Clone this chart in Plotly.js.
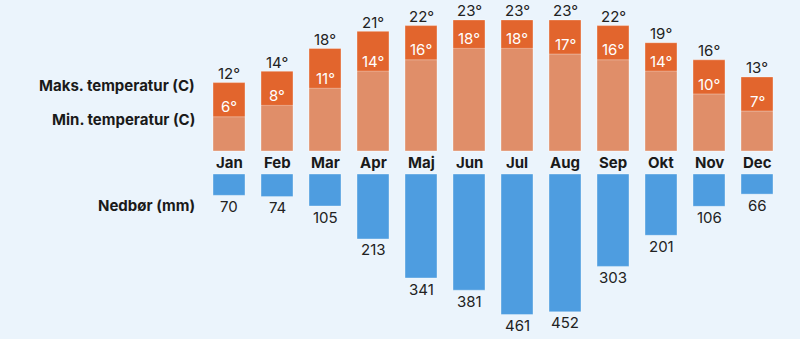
<!DOCTYPE html>
<html>
<head>
<meta charset="utf-8">
<script src="https://cdn.plot.ly/plotly-3.0.1.min.js"></script>
<style>html,body{margin:0;padding:0;background:#ebf4fc;}#chart{width:800px;height:339px;}</style>
</head>
<body>
<div id="chart"></div>
<script>
const months = ["Jan","Feb","Mar","Apr","Maj","Jun","Jul","Aug","Sep","Okt","Nov","Dec"];
const maxTemp = [12,14,18,21,22,23,23,23,22,19,16,13];
const minTemp = [6,8,11,14,16,18,18,17,16,14,10,7];
const precip = [70,74,105,213,341,381,461,452,303,201,106,66];
const rowLabels = ["Maks. temperatur (C)","Min. temperatur (C)","Nedbør (mm)"];

const FONT = "Inter, 'Noto Sans', sans-serif";
const deg = v => v + "°";
const LINE = {color: "rgba(255,255,255,0.35)", width: 1};

const traces = [
  {type: "bar", x: months, y: maxTemp, xaxis: "x", yaxis: "y",
   marker: {color: "#e2652d", line: LINE}, hoverinfo: "none"},
  {type: "bar", x: months, y: minTemp, xaxis: "x", yaxis: "y",
   marker: {color: "#e08e69", line: LINE}, hoverinfo: "none"},
  {type: "bar", x: months, y: precip, xaxis: "x", yaxis: "y2",
   marker: {color: "#4e9de0", line: LINE}, hoverinfo: "none"}
];

const W = 800, H = 339;
const step = 48, firstCenter = 229;
const xr0 = -firstCenter / step, xr1 = xr0 + W / step;
const tScale = 5.7, tZero = 151;
const yr0 = -(H - tZero) / tScale, yr1 = yr0 + H / tScale;
const pScale = 0.305, pZero = 174;
const p0 = -pZero / pScale, p1 = (H - pZero) / pScale;

const annotations = [];
months.forEach((m, i) => {
  annotations.push({x: m, xref: "x", y: maxTemp[i], yref: "y", yanchor: "middle", yshift: 9,
    text: deg(maxTemp[i]), showarrow: false, font: {family: FONT, size: 15, color: "#222"}});
  annotations.push({x: m, xref: "x", y: minTemp[i], yref: "y", yanchor: "middle", yshift: 10,
    text: deg(minTemp[i]), showarrow: false, font: {family: FONT, size: 15, color: "#ffffff"}});
  annotations.push({x: m, xref: "x", y: precip[i], yref: "y2", yanchor: "middle", yshift: -11,
    text: String(precip[i]), showarrow: false, font: {family: FONT, size: 15, color: "#222"}});
  annotations.push({x: m, xref: "x", y: 1 - 162 / H, yref: "paper",
    text: "<b>" + m + "</b>", showarrow: false, font: {family: FONT, size: 15, color: "#1a1a1a"}});
});
[[74, 0], [108, 1], [205, 2]].forEach(([py, i]) => {
  annotations.push({
    x: 197 / W, xref: "paper", xanchor: "right",
    y: 1 - py / H, yref: "paper",
    text: "<b>" + rowLabels[i] + "</b>", showarrow: false,
    font: {family: FONT, size: 15, color: "#1a1a1a"}
  });
});

const layout = {
  width: W, height: H,
  margin: {l: 0, r: 0, t: 0, b: 0},
  paper_bgcolor: "#ebf4fc", plot_bgcolor: "#ebf4fc",
  barmode: "overlay", bargap: 1/3,
  showlegend: false,
  xaxis: {range: [xr0, xr1], visible: false, fixedrange: true},
  yaxis: {range: [yr0, yr1], visible: false, fixedrange: true},
  yaxis2: {range: [p1, p0], visible: false, overlaying: "y", fixedrange: true},
  annotations: annotations,
  font: {family: FONT}
};

Plotly.newPlot("chart", traces, layout, {displayModeBar: false, staticPlot: true});
</script>
</body>
</html>
